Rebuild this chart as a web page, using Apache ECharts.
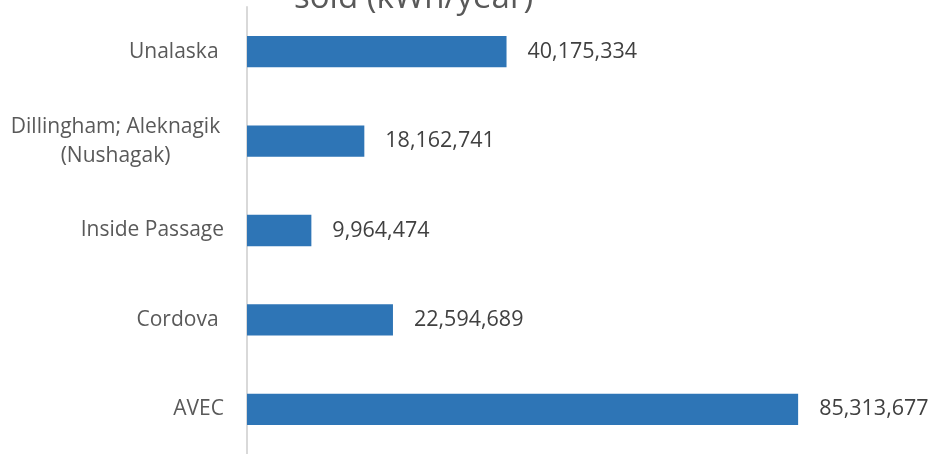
<!DOCTYPE html>
<html><head><meta charset="utf-8">
<script src="https://cdn.jsdelivr.net/npm/echarts@6/dist/echarts.min.js"></script>
<style>html,body{margin:0;padding:0;background:#fff}#c{width:933px;height:454px}</style>
</head><body><div id="c"></div>
<script>
const categories = ['AVEC', 'Cordova ', 'Inside Passage', 'Dillingham; Aleknagik \n(Nushagak)', 'Unalaska '];
const values = [85313677, 22594689, 9964474, 18162741, 40175334];
const titleText = 'sold (kWh/year)';

const chart = echarts.init(document.getElementById('c'));
const font = 'Open Sans';
chart.setOption({
  animation: false,
  title: {
    text: titleText, left: 289, top: -23,
    textStyle: { fontFamily: font, fontSize: 33, fontWeight: 'normal', color: '#595959' }
  },
  grid: { left: 247, right: 40, top: 7, bottom: 0, containLabel: false },
  xAxis: { type: 'value', min: 0, max: 100000000, show: false },
  yAxis: {
    type: 'category', data: categories,
    axisLine: { show: true, lineStyle: { color: '#d9d9d9', width: 2 } },
    axisTick: { show: false },
    axisLabel: {
      margin: 23, fontFamily: font, fontSize: 21, color: '#595959', lineHeight: 29,
      formatter: function (v) {
        if (v.indexOf('\n') >= 0) {
          return v.split('\n').map(s => '{c|' + s.trim() + '}').join('\n');
        }
        return v;
      },
      rich: { c: { width: 217, align: 'center', fontFamily: font, fontSize: 21, color: '#595959', lineHeight: 29 } }
    }
  },
  series: [{
    type: 'bar', data: values, barCategoryGap: '65%',
    itemStyle: { color: '#2e75b6' },
    label: {
      show: true, position: 'right', distance: 21,
      fontFamily: font, fontSize: 21.5, color: '#404040',
      formatter: p => p.value.toLocaleString('en-US')
    }
  }]
});
</script></body></html>
